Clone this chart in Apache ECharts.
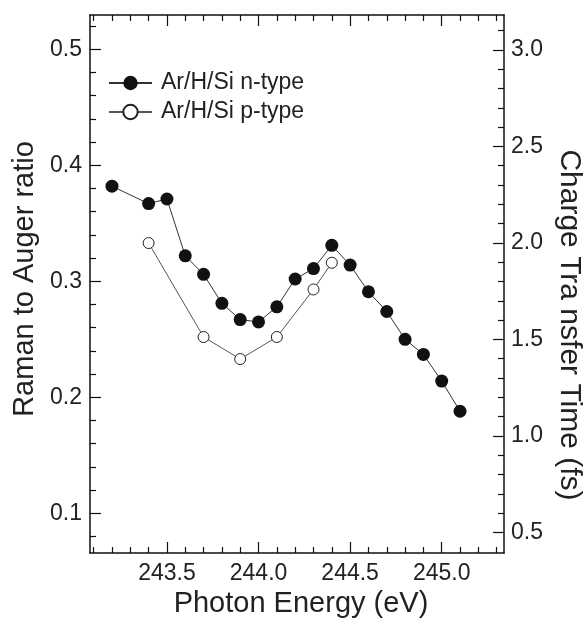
<!DOCTYPE html>
<html>
<head>
<meta charset="utf-8">
<script src="https://cdn.jsdelivr.net/npm/echarts@6/dist/echarts.min.js"></script>
<style>html,body{margin:0;padding:0;background:#fff;}#c{width:584px;height:627px;}</style>
</head>
<body>
<div id="c"></div>
<script>
// Data
var energyN = [243.2,243.4,243.5,243.6,243.7,243.8,243.9,244.0,244.1,244.2,244.3,244.4,244.5,244.6,244.7,244.8,244.9,245.0,245.1];
var ratioN  = [0.382,0.367,0.371,0.322,0.306,0.281,0.267,0.265,0.278,0.302,0.311,0.331,0.314,0.291,0.274,0.250,0.237,0.214,0.188];
var energyP = [243.4,243.7,243.9,244.1,244.3,244.4];
var ratioP  = [0.333,0.252,0.233,0.252,0.293,0.316];

// Ticks
var xMajor = [243.5,244.0,244.5,245.0];
var xMinor = [243.1,243.2,243.3,243.4,243.6,243.7,243.8,243.9,244.1,244.2,244.3,244.4,244.6,244.7,244.8,244.9,245.1,245.2,245.3];
var yMajor = [0.1,0.2,0.3,0.4,0.5];
var yMinor = [0.08,0.12,0.14,0.16,0.18,0.22,0.24,0.26,0.28,0.32,0.34,0.36,0.38,0.42,0.44,0.46,0.48,0.52];
var y2Major = [0.5,1.0,1.5,2.0,2.5,3.0];
var y2Minor = [0.6,0.7,0.8,0.9,1.1,1.2,1.3,1.4,1.6,1.7,1.8,1.9,2.1,2.2,2.3,2.4,2.6,2.7,2.8,2.9,3.1];

var seriesNames = ['Ar/H/Si n-type','Ar/H/Si p-type'];
var xTitle = 'Photon Energy (eV)';
var yTitle = 'Raman to Auger ratio';
var y2Title = 'Charge Tra nsfer Time (fs)';

var FONT = '"Liberation Sans", Arial, sans-serif';
var X_MIN = 243.08, X_MAX = 245.34;
var Y_MIN = 0.0658, Y_MAX = 0.5296;
var Y2_MIN = 0.393, Y2_MAX = 3.181;
var lineStyleAxis = {color:'#111', width:1.5};

function pts(xs, ys){ return xs.map(function(x,i){ return [x, ys[i]]; }); }
function fmt1(v){ return Number(v).toFixed(1); }

function xAx(pos, ticks, len, main){
  return {
    type:'value', position:pos, min:X_MIN, max:X_MAX,
    axisLine:{show:main, lineStyle:lineStyleAxis, onZero:false},
    axisTick:{show:true, inside:true, length:len, customValues:ticks, lineStyle:{color:'#111', width:1.2}},
    axisLabel:{show:false},
    splitLine:{show:false}
  };
}
function yAx(pos, min, max, ticks, len, main){
  return {
    type:'value', position:pos, min:min, max:max,
    axisLine:{show:main, lineStyle:lineStyleAxis, onZero:false},
    axisTick:{show:true, inside:true, length:len, customValues:ticks, lineStyle:{color:'#111', width:1.2}},
    axisLabel:{show:false},
    splitLine:{show:false}
  };
}

var xBottom = xAx('bottom', xMajor, 11, true);
xBottom.axisLabel = {show:true, customValues:xMajor, formatter:fmt1, fontSize:23, fontFamily:FONT, color:'#222', margin:9};
xBottom.name = xTitle; xBottom.nameLocation = 'middle'; xBottom.nameGap = 36;
xBottom.nameTextStyle = {fontSize:29, fontFamily:FONT, color:'#222', padding:[0,0,0,8]};

var yLeft = yAx('left', Y_MIN, Y_MAX, yMajor, 11, true);
yLeft.axisLabel = {show:true, customValues:yMajor, formatter:fmt1, fontSize:23, fontFamily:FONT, color:'#222', margin:8};
yLeft.name = yTitle; yLeft.nameLocation = 'middle'; yLeft.nameGap = 51;
yLeft.nameTextStyle = {fontSize:29, fontFamily:FONT, color:'#222', padding:[0,0,0,10]};

var yRight = yAx('right', Y2_MIN, Y2_MAX, y2Major, 11, true);
yRight.axisLabel = {show:true, customValues:y2Major, formatter:fmt1, fontSize:23, fontFamily:FONT, color:'#222', margin:7};
yRight.name = y2Title; yRight.nameLocation = 'middle'; yRight.nameGap = 41; yRight.nameRotate = -90;
yRight.nameTextStyle = {fontSize:30, fontFamily:FONT, color:'#222', padding:[0,0,0,82]};

var chart = echarts.init(document.getElementById('c'), null, {renderer:'canvas'});
chart.setOption({
  backgroundColor:'#fff',
  animation:false,
  grid:{left:90, right:80, top:15, bottom:74, containLabel:false, outerBoundsMode:'none'},
  legend:{
    orient:'vertical', left:108, top:71, padding:0,
    itemWidth:43, itemHeight:18, itemGap:5,
    textStyle:{fontSize:23, fontFamily:FONT, color:'#222', lineHeight:24, padding:[0,0,0,4]},
    data:seriesNames
  },
  xAxis:[
    xBottom,
    xAx('bottom', xMinor, 6, false),
    xAx('top', xMajor, 11, true),
    xAx('top', xMinor, 6, false)
  ],
  yAxis:[
    yLeft,
    yAx('left', Y_MIN, Y_MAX, yMinor, 6, false),
    yRight,
    yAx('right', Y2_MIN, Y2_MAX, y2Minor, 6, false)
  ],
  series:[
    {
      name:seriesNames[0], type:'line', xAxisIndex:0, yAxisIndex:0,
      data:pts(energyN, ratioN),
      symbol:'circle', symbolSize:13,
      lineStyle:{color:'#333', width:1},
      itemStyle:{color:'#111', borderColor:'#111', borderWidth:0},
      z:3
    },
    {
      name:seriesNames[1], type:'line', xAxisIndex:0, yAxisIndex:0,
      data:pts(energyP, ratioP),
      symbol:'circle', symbolSize:11,
      lineStyle:{color:'#555', width:1},
      itemStyle:{color:'#fff', borderColor:'#222', borderWidth:1},
      z:2
    }
  ]
});
</script>
</body>
</html>
